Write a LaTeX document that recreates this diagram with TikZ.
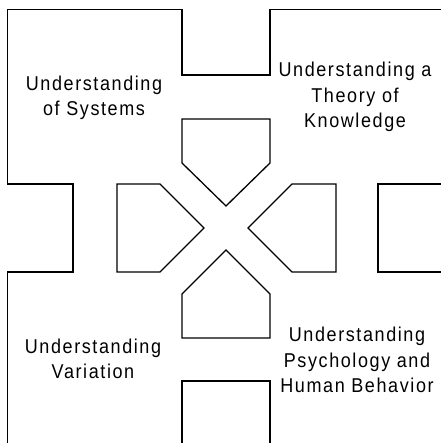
\documentclass[tikz,border=0pt]{standalone}
\usepackage{fontspec}
\setmainfont{Liberation Sans}[FakeStretch=0.9,LetterSpace=8]
\begin{document}
\begin{tikzpicture}[x=1pt,y=-1pt,
  outline/.style={draw=black,line width=1.3pt,line join=miter},
  label/.style={align=center,inner sep=0pt,font=\fontsize{20}{25.5}\selectfont}]
\useasboundingbox (0,0) rectangle (441,443);
% outer frame (top and left)
\draw[outline] (441,9.5) -- (270,9.5) -- (270,75) -- (182,75) -- (182,9.5) -- (7.5,9.5)
  -- (7.5,184) -- (73,184) -- (73,272) -- (7.5,272) -- (7.5,443);
% right box
\draw[outline] (441,184) -- (378,184) -- (378,272) -- (441,272);
% bottom box
\draw[outline] (182,443) -- (182,381) -- (270,381) -- (270,443);
% four pentagons
\draw[outline] (182,119) -- (270,119) -- (270,163) -- (226,206) -- (182,163) -- cycle;
\draw[outline] (117,184) -- (160,184) -- (204,228) -- (160,272) -- (117,272) -- cycle;
\draw[outline] (336,184) -- (292,184) -- (248,228) -- (292,272) -- (336,272) -- cycle;
\draw[outline] (182,338) -- (270,338) -- (270,294) -- (226,250) -- (182,294) -- cycle;
% labels
\node[label] (sys) at (94,98) {Understanding\\of Systems};
\node[label] (know) at (355,97) {Understanding a\\Theory of\\Knowledge};
\node[label] (var) at (93,359) {Understanding\\Variation};
\node[label] (psy) at (357,360) {Understanding\\Psychology and\\Human Behavior};
\end{tikzpicture}
\end{document}
